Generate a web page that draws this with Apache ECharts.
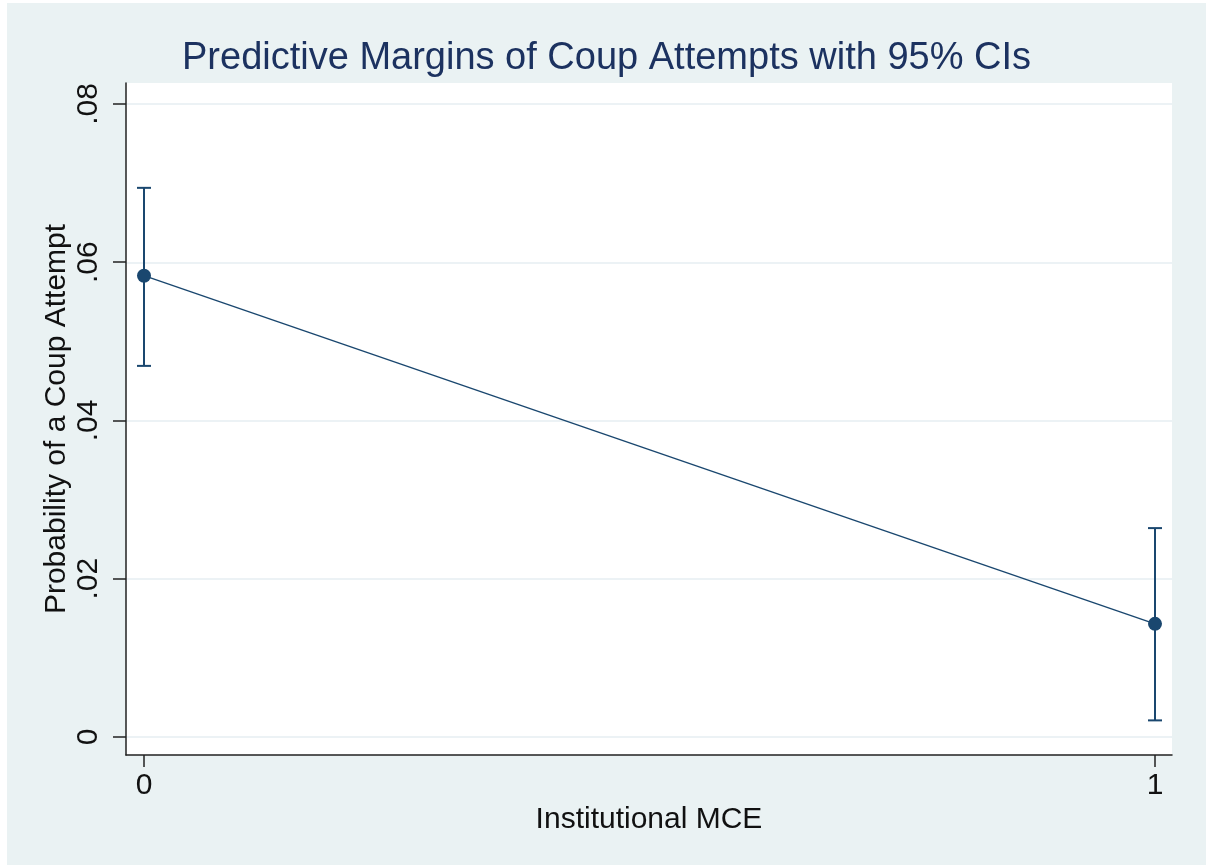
<!DOCTYPE html>
<html>
<head>
<meta charset="utf-8">
<script src="https://cdn.jsdelivr.net/npm/echarts@6/dist/echarts.min.js"></script>
<style>
  html, body { margin: 0; padding: 0; background: #ffffff; width: 1206px; height: 867px; overflow: hidden; }
  #chart { position: absolute; left: 7px; top: 3px; width: 1199px; height: 862px; }
</style>
</head>
<body>
<div id="chart"></div>
<script>
const xValues = [0, 1];
const margins = [0.0583, 0.0143];
const ciLower = [0.0469, 0.0021];
const ciUpper = [0.0694, 0.0264];
const yTicks = [0, 0.02, 0.04, 0.06, 0.08];
const xTicks = [0, 1];
const titleText = 'Predictive Margins of Coup Attempts with 95% CIs';
const xName = 'Institutional MCE';
const yName = 'Probability of a Coup Attempt';

const FONT = "'Liberation Sans', Arial, sans-serif";
const NAVY = '#1a476f';

const chart = echarts.init(document.getElementById('chart'), null, { renderer: 'canvas' });

const pointData = xValues.map((x, i) => [x, margins[i]]);
const ciData = xValues.map((x, i) => [x, ciLower[i], ciUpper[i]]);

function fmtY(v) {
  if (Math.abs(v) < 1e-9) return '0';
  return v.toFixed(2).replace(/^0/, '');
}

const option = {
  backgroundColor: '#eaf2f3',
  animation: false,
  title: {
    text: titleText,
    left: 'center',
    top: 32,
    textStyle: { fontFamily: FONT, fontSize: 38, fontWeight: 'normal', color: '#1c3260' }
  },
  grid: [
    { left: 119, top: 80, width: 1046, height: 672, show: true, backgroundColor: '#ffffff', borderWidth: 0 },
    { left: 119, top: 101, width: 1046, height: 633, show: false }
  ],
  xAxis: [
    {
      type: 'value', gridIndex: 0, min: -0.0178, max: 1.0168,
      name: xName, nameLocation: 'middle', nameGap: 50, nameMoveOverlap: false,
      nameTextStyle: { fontFamily: FONT, fontSize: 30, color: '#111' },
      axisLine: { show: true, onZero: false, lineStyle: { color: '#222', width: 1.5 } },
      axisTick: { show: true, length: 12, customValues: xTicks, lineStyle: { color: '#222', width: 1.5 } },
      axisLabel: { show: true, customValues: xTicks, margin: 16, fontFamily: FONT, fontSize: 30, color: '#111',
        formatter: v => String(Math.round(v)) },
      splitLine: { show: false }
    },
    { type: 'value', gridIndex: 1, min: -0.0178, max: 1.0168, show: false }
  ],
  yAxis: [
    {
      type: 'value', gridIndex: 0, min: -0.002275, max: 0.08265,
      name: yName, nameLocation: 'middle', nameGap: 54, nameMoveOverlap: false,
      nameTextStyle: { fontFamily: FONT, fontSize: 30, color: '#111' },
      axisLine: { show: true, onZero: false, lineStyle: { color: '#222', width: 1.5 } },
      axisTick: { show: true, length: 13, customValues: yTicks, lineStyle: { color: '#222', width: 1.5 } },
      axisLabel: { show: true, customValues: yTicks, rotate: 90, margin: 22, fontFamily: FONT, fontSize: 30, color: '#111',
        formatter: fmtY },
      splitLine: { show: false }
    },
    {
      type: 'value', gridIndex: 1, min: 0, max: 0.08, interval: 0.02,
      axisLine: { show: false }, axisTick: { show: false }, axisLabel: { show: false },
      splitLine: { show: true, lineStyle: { color: '#e6eef2', width: 1.5 } }
    }
  ],
  series: [
    {
      type: 'custom',
      xAxisIndex: 0, yAxisIndex: 0,
      data: ciData,
      z: 3,
      renderItem: function (params, api) {
        const x = api.value(0);
        const lo = api.coord([x, api.value(1)]);
        const hi = api.coord([x, api.value(2)]);
        const cap = 7;
        const style = { stroke: NAVY, lineWidth: 2 };
        return {
          type: 'group',
          children: [
            { type: 'line', shape: { x1: lo[0], y1: lo[1], x2: hi[0], y2: hi[1] }, style: style },
            { type: 'line', shape: { x1: lo[0] - cap, y1: lo[1], x2: lo[0] + cap, y2: lo[1] }, style: style },
            { type: 'line', shape: { x1: hi[0] - cap, y1: hi[1], x2: hi[0] + cap, y2: hi[1] }, style: style }
          ]
        };
      }
    },
    {
      type: 'line',
      xAxisIndex: 0, yAxisIndex: 0,
      data: pointData,
      z: 4,
      symbol: 'circle',
      symbolSize: 14,
      lineStyle: { color: NAVY, width: 1.4 },
      itemStyle: { color: NAVY }
    }
  ]
};

chart.setOption(option);
</script>
</body>
</html>
